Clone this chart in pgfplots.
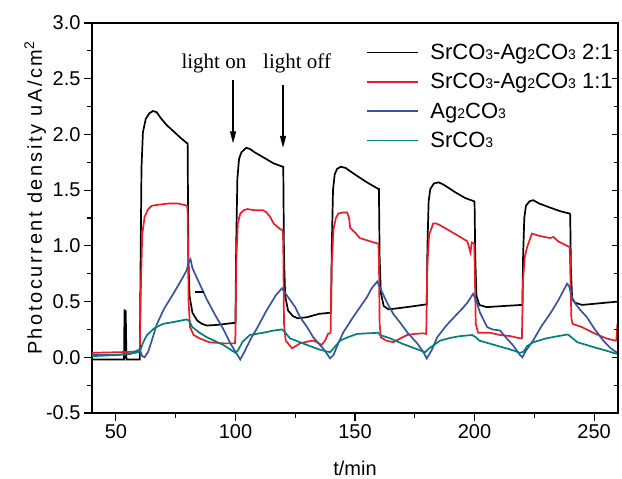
\documentclass[border=0pt]{standalone}
\usepackage{fontspec}
\setmainfont{Liberation Sans}
\newfontfamily\timesfont{Liberation Serif}
\newfontfamily\ylabfont{Liberation Sans}[LetterSpace=13]
\usepackage{pgfplots}
\pgfplotsset{compat=1.18}
\usetikzlibrary{arrows.meta}
\definecolor{cred}{RGB}{237,28,36}
\definecolor{cblue}{RGB}{57,83,164}
\definecolor{cteal}{RGB}{0,128,118}
\newcommand\sub[1]{{\fontsize{14}{14}\selectfont #1}}

\begin{document}
\begin{tikzpicture}
\begin{axis}[
  scale only axis, width=526pt, height=390pt,
  xmin=40, xmax=260, ymin=-0.5, ymax=3.0,
  xtick={50,100,150,200,250}, minor xtick={75,125,175,225},
  ytick={-0.5,0,0.5,1,1.5,2,2.5,3}, minor y tick num=1,
  xtick pos=left, ytick pos=left, tick align=outside,
  major tick length=8pt, minor tick length=5pt,
  every tick/.style={black, line width=1.1pt},
  axis line style={line width=1.2pt},
  tick label style={font=\fontsize{20}{20}\selectfont},
  /pgf/number format/assume math mode=true,
  y tick label style={/pgf/number format/.cd, fixed, fixed zerofill, precision=1, /tikz/.cd},
  x tick label style={/pgf/number format/.cd, fixed, precision=0, /tikz/.cd},
  legend cell align=left,
  legend style={at={(axis description cs:0.52,0.952)}, anchor=north west, draw=none, fill=none,
    font=\fontsize{22}{22}\selectfont, row sep=8.5pt, column sep=10pt, inner sep=0pt},
  legend image code/.code={\draw[#1] (0pt,0pt) -- (51pt,0pt);},
  clip=false,
]
\coordinate (BL) at (rel axis cs:0,0);
\coordinate (TR) at (rel axis cs:1,1);

\addplot[black, line width=1.7pt] coordinates {
(40,-0.02) (53.4,-0.02) (53.6,0.43) (53.9,-0.01) (54.1,0.42) (54.4,-0.02) (60,-0.02)
(60.3,0.8) (60.7,1.7) (61.3,2.02) (62.5,2.14) (64,2.19) (65.5,2.21) (67,2.2) (69,2.14)
(71.4,2.08) (74,2.03) (77,1.97) (79.8,1.92) (80,1.92) (80.3,0.9) (80.8,0.55) (82,0.4)
(84,0.33) (86,0.3) (88,0.285) (92,0.29) (96,0.3) (100,0.31)
(100.3,1.0) (100.8,1.6) (101.5,1.78) (102.5,1.84) (104.5,1.88) (106,1.87) (108,1.84)
(112,1.79) (116,1.74) (119.8,1.71) (120,1.71) (120.3,0.9) (120.8,0.55) (122,0.42)
(124,0.37) (126,0.35) (130,0.36) (135,0.39) (139.8,0.4)
(140,0.4) (140.3,1.0) (140.8,1.5) (141.5,1.64) (142.5,1.69) (144,1.71) (146,1.7)
(150,1.64) (155,1.57) (159.8,1.51) (160,1.51) (160.3,0.9) (160.8,0.58) (162,0.46)
(164,0.43) (168,0.44) (175,0.46) (179.8,0.475)
(180,0.475) (180.3,1.0) (180.8,1.4) (181.5,1.51) (183,1.56) (185,1.57) (187,1.55)
(192,1.48) (196,1.43) (199.8,1.4) (200,1.39) (200.3,0.9) (200.8,0.55) (202,0.47)
(205,0.45) (212,0.46) (219.8,0.47)
(220,0.47) (220.3,0.9) (220.8,1.25) (221.5,1.36) (223,1.4) (224.5,1.41) (227,1.38)
(232,1.34) (236,1.31) (239.8,1.29) (240,1.28) (240.3,0.8) (240.8,0.53) (242,0.49)
(245,0.47) (250,0.48) (255,0.49) (260,0.5)
};
\addlegendentry{SrCO\sub{3}-Ag\sub{2}CO\sub{3} 2:1}

\addplot[cred, line width=1.7pt] coordinates {
(40,0.04) (50,0.045) (58,0.05) (60,0.06) (60.3,0.5) (61,1.1) (62,1.26) (63.5,1.33)
(65,1.36) (68,1.37) (72,1.38) (76,1.38) (78,1.37) (79.8,1.36) (80,1.3) (80.4,0.5)
(81,0.27) (82.5,0.2) (85,0.17) (89,0.135) (95,0.125) (99.8,0.125)
(100,0.2) (100.4,0.9) (101,1.2) (102,1.29) (103.5,1.32) (105,1.33) (108,1.32)
(111.5,1.32) (113,1.3) (114.5,1.26) (116,1.2) (118.7,1.15) (119.8,1.14) (120,1.0)
(120.3,0.3) (121,0.15) (123.7,0.08) (127,0.125) (130,0.14) (132.5,0.15) (134.5,0.13)
(136,0.11) (137.5,0.15) (138.7,0.21) (139.8,0.22)
(140.2,0.8) (141,1.15) (142,1.25) (143,1.29) (145,1.3) (146.7,1.3) (147.5,1.25)
(148,1.16) (150,1.12) (152,1.07) (155,1.05) (158,1.03) (159.8,1.02) (160,0.9)
(160.3,0.3) (160.8,0.18) (163,0.15) (166,0.135) (169,0.17) (171.8,0.2) (175,0.21)
(178.5,0.215) (179.8,0.21)
(180.2,0.8) (181,1.1) (182.7,1.2) (184,1.2) (185.6,1.185) (190,1.13) (194,1.08)
(197,1.04) (198.3,0.94) (198.8,1.03) (199.8,1.02) (200,0.9) (200.5,0.3) (201.5,0.22)
(206.5,0.22) (210.7,0.2) (215,0.19) (219,0.17) (219.8,0.17)
(220.3,0.7) (221,0.9) (222,0.99) (224,1.11) (227,1.09) (231.6,1.07) (233,1.08)
(235,1.04) (238.7,1.0) (239.8,0.99) (240,0.8) (240.5,0.35) (241,0.3) (245,0.27)
(249.6,0.22) (255,0.17) (258.8,0.15) (259.3,0.15) (259.7,0.28) (260,0.27)
};
\addlegendentry{SrCO\sub{3}-Ag\sub{2}CO\sub{3} 1:1}

\addplot[cblue, line width=1.7pt] coordinates {
(40,0.02) (50,0.02) (56,0.03) (58.8,0.06) (60,0.07) (61,0.01) (62,0.0) (63.5,0.05)
(65,0.15) (67,0.29) (70,0.43) (74,0.57) (77,0.68) (79.6,0.78) (80.5,0.86) (81.2,0.88)
(82,0.8) (85,0.66) (88,0.52) (91.5,0.38) (95,0.25) (98,0.12) (100,0.05) (102,-0.02)
(104,0.06) (106.5,0.17) (109,0.26) (113,0.42) (117,0.56) (119.5,0.62) (121,0.57)
(125,0.45) (127,0.36) (130,0.27) (132.5,0.18) (135,0.12) (137,0.07) (139.6,-0.01)
(141,0.02) (143,0.125) (145,0.22) (149.2,0.36) (155,0.54) (157,0.62) (159.3,0.68)
(161,0.6) (163.4,0.49) (166,0.39) (168.9,0.31) (172,0.22) (176,0.125) (178.5,0.05)
(180,-0.01) (182,0.06) (184.4,0.18) (188,0.28) (191,0.35) (195,0.44) (197,0.49)
(199.4,0.57) (200.5,0.52) (202.3,0.4) (205.3,0.27) (207.5,0.25) (210.7,0.24)
(213,0.18) (216,0.11) (219,0.02) (220,0.0) (221.5,0.06) (224.5,0.15) (228,0.28)
(231.6,0.39) (235,0.51) (238.7,0.66) (239.5,0.64) (241.2,0.51) (244,0.43)
(247,0.36) (250,0.26) (253.8,0.15) (257,0.08) (259.7,0.04) (260,0.04)
};
\addlegendentry{Ag\sub{2}CO\sub{3}}

\addplot[cteal, line width=1.7pt] coordinates {
(40,0.01) (50,0.02) (58,0.04) (60,0.05) (61.3,0.13) (63,0.2) (64,0.22) (66,0.26)
(69.7,0.3) (75,0.32) (79.6,0.34) (80.5,0.33) (82,0.27) (85,0.22) (88,0.18) (95,0.11)
(100,0.04) (101,0.06) (103,0.14) (106,0.2) (111.5,0.22) (116,0.24) (119.5,0.25)
(120.5,0.23) (122.8,0.17) (130,0.11) (135,0.07) (139.6,0.045) (141,0.08)
(143.8,0.15) (147,0.18) (150.9,0.21) (155,0.215) (159.7,0.22) (160.5,0.2)
(164.7,0.17) (170,0.12) (175,0.08) (179.3,0.045) (181,0.08) (185.6,0.15) (190,0.175)
(194,0.19) (199,0.2) (200.5,0.18) (202,0.15) (210,0.1) (215,0.07) (219,0.04)
(220.5,0.05) (222,0.1) (224.5,0.135) (230,0.17) (235,0.19) (239,0.205) (240.5,0.18)
(243,0.135) (250,0.09) (255,0.06) (258.8,0.035) (260,0.03)
};
\addlegendentry{SrCO\sub{3}}

\addplot[black, line width=2pt, forget plot] coordinates {(83,0.59) (87,0.59)};

\node[font=\timesfont\fontsize{21}{21}\selectfont] at (axis cs:91,2.64) {light on};
\node[font=\timesfont\fontsize{21}{21}\selectfont] at (axis cs:125.8,2.64) {light off};
\draw[line width=1.2pt, -{Triangle[length=12pt,width=6pt]}] (axis cs:99,2.49) -- (axis cs:99,1.92);
\draw[line width=1.2pt, -{Triangle[length=12pt,width=6pt]}] (axis cs:119.9,2.44) -- (axis cs:119.9,1.88);

\node[rotate=90, font=\ylabfont\fontsize{20}{20}\selectfont] at (axis description cs:-0.108,0.551) {Photocurrent density uA/cm\textsuperscript{2}};
\node[anchor=base, font=\fontsize{20}{20}\selectfont] at (axis description cs:0.5,-0.159) {t/min};
\end{axis}
\begin{axis}[
  scale only axis, width=526pt, height=390pt,
  xmin=40, xmax=260, ymin=-0.5, ymax=3.0,
  axis x line=none, axis y line*=right,
  ytick={-0.5,0,0.5,1,1.5,2,2.5,3}, minor y tick num=1, yticklabels={},
  tick align=inside, major tick length=6pt, minor tick length=4pt,
  every tick/.style={black, line width=1pt},
  axis line style={line width=1.2pt},
]
\end{axis}
\pgfresetboundingbox
\path[use as bounding box] ([shift={(-92pt,-65pt)}]BL) rectangle ([shift={(4pt,23pt)}]TR);
\end{tikzpicture}
\end{document}
